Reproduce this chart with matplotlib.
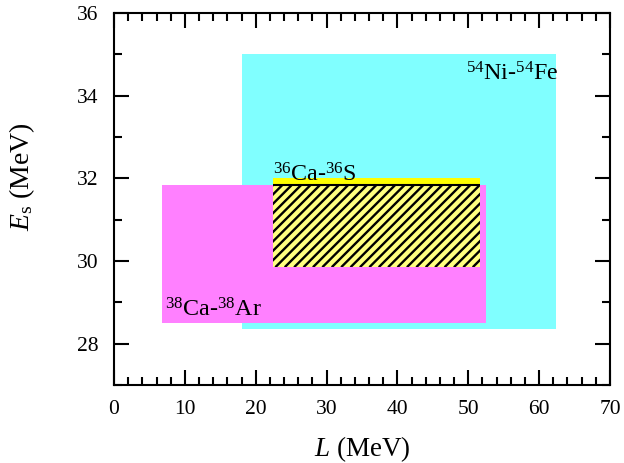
import matplotlib
matplotlib.use("Agg")
import numpy as np
import matplotlib.pyplot as plt
from matplotlib.patches import Rectangle
from matplotlib.ticker import MultipleLocator

# Data (constraint boxes in L-Es plane)
names = ["$^{54}$Ni-$^{54}$Fe", "$^{38}$Ca-$^{38}$Ar", "$^{36}$Ca-$^{36}$S"]
L_min = [18.0, 6.8, 22.5]
L_max = [62.4, 52.5, 51.6]
Es_min = [28.35, 28.5, 29.85]
Es_max = [35.0, 31.85, 32.0]
colors = ["#80ffff", "#ff80ff", "#ffff00"]
label_pos_L = [49.7, 7.2, 22.5]
label_pos_Es = [34.36, 28.65, 31.92]

plt.rcParams['font.family'] = ['Liberation Serif', 'DejaVu Serif']
plt.rcParams['mathtext.fontset'] = 'custom'
plt.rcParams['mathtext.rm'] = 'Liberation Serif'
plt.rcParams['mathtext.it'] = 'Liberation Serif:italic'

fig = plt.figure(figsize=(6.24, 4.63), dpi=100)
ax = fig.add_axes([114/624, 1-385/463, (610-114)/624, (385-13)/463])
ax.set_xlim(0, 70)
ax.set_ylim(27, 36)

for i in range(3):
    ax.add_patch(Rectangle((L_min[i], Es_min[i]), L_max[i]-L_min[i], Es_max[i]-Es_min[i],
                           facecolor=colors[i], edgecolor='none', zorder=1))

# overlap of 38Ca-38Ar and 36Ca-36S boxes (hatched)
ox0 = max(L_min[1], L_min[2]); ox1 = min(L_max[1], L_max[2])
oy0 = max(Es_min[1], Es_min[2]); oy1 = min(Es_max[1], Es_max[2])
over = Rectangle((ox0, oy0), ox1-ox0, oy1-oy0, facecolor='#ffff80',
                 edgecolor='none', zorder=2)
ax.add_patch(over)

# hatch lines at 45 degrees on screen, ~9.4 px apart
bbox = ax.get_position()
sx = bbox.width * fig.get_figwidth() * fig.dpi / 70.0
sy = bbox.height * fig.get_figheight() * fig.dpi / 9.0
H_px = (oy1 - oy0) * sy
dx_data = H_px / sx
step = 9.4 / sx
for x0 in np.arange(ox0 - dx_data, ox1 + step, step):
    ln, = ax.plot([x0, x0 + dx_data], [oy0, oy1], color='black', lw=1.7,
                  solid_capstyle='butt', zorder=3)
    ln.set_clip_path(over)
ax.hlines(oy1, ox0, ox1, color='black', linewidth=1.5, zorder=4)

for i in range(3):
    ax.text(label_pos_L[i], label_pos_Es[i], names[i], fontsize=17.3, ha='left',
            va='baseline', zorder=5)

ax.xaxis.set_major_locator(MultipleLocator(10))
ax.xaxis.set_minor_locator(MultipleLocator(2))
ax.yaxis.set_major_locator(MultipleLocator(2))
ax.yaxis.set_minor_locator(MultipleLocator(1))
ax.tick_params(which='both', direction='in', top=True, right=True, width=1.5,
               labelsize=15.5, pad=11)
ax.tick_params(which='major', length=11)
ax.tick_params(which='minor', length=5.5)
for s in ax.spines.values():
    s.set_linewidth(1.5)

ax.set_xlabel("$L$ (MeV)", fontsize=19.5, labelpad=11)
ax.set_ylabel("$E_{\\rm s}$ (MeV)", fontsize=20)
ax.yaxis.set_label_coords(-0.155, 0.56)

fig.savefig("out.png", dpi=100)
